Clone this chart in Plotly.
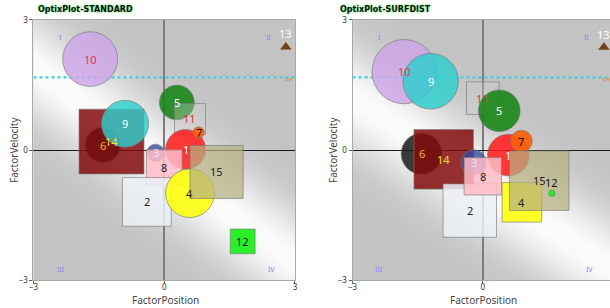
import numpy as np, zlib, struct, base64
import plotly.graph_objects as go

# ---------------- data ----------------
# STANDARD plot (left)
std_labels = ["10", "6", "14", "9", "5", "11", "1", "7", "3", "8", "2", "4", "15", "12", "13"]
std_x      = [-1.70, -1.41, -1.21, -0.90, 0.29, 0.59, 0.49, 0.79, -0.20, 0.00, -0.40, 0.59, 1.20, 1.80, 2.79]
std_y      = [2.10, 0.12, 0.20, 0.61, 1.10, 0.72, 0.02, 0.41, -0.06, -0.40, -1.19, -0.99, -0.50, -2.10, 2.38]
std_size   = [1.26, 0.80, 1.49, 1.08, 0.80, 0.71, 0.92, 0.26, 0.40, 0.82, 1.12, 1.12, 1.22, 0.57, 0.0]
std_shape  = ["circle", "circle", "square", "circle", "circle", "square", "circle", "circle", "circle",
              "square", "square", "circle", "square", "square", "triangle"]

# SURFDIST plot (right)
sd_labels = ["10", "9", "11", "5", "6", "14", "3", "1", "7", "2", "8", "4", "15", "12", "13"]
sd_x      = [-1.81, -1.20, 0.00, 0.38, -1.41, -0.90, -0.21, 0.59, 0.89, -0.30, 0.00, 0.90, 1.30, 1.59, 2.79]
sd_y      = [1.81, 1.59, 1.20, 0.91, -0.08, -0.21, -0.28, -0.11, 0.21, -1.39, -0.60, -1.20, -0.70, -0.99, 2.37]
sd_size   = [1.48, 1.28, 0.75, 0.96, 0.94, 1.37, 0.58, 0.96, 0.50, 1.23, 0.86, 0.91, 1.37, 0.15, 0.0]
sd_shape  = ["circle", "circle", "square", "circle", "circle", "square", "circle", "circle", "circle",
             "square", "square", "square", "square", "circle", "triangle"]

threshold_y = 1.68
axis_ticks = [-3, 0, 3]
quadrants = ["I", "II", "III", "IV"]
x_title = "FactorPosition"
y_title = "FactorVelocity"

# ---------------- styles ----------------
FILL = {
    "1": "rgba(255,25,25,0.85)", "2": "rgba(236,240,246,0.85)", "3": "rgba(55,75,160,0.8)",
    "4": "rgba(255,255,10,0.88)", "5": "rgba(25,135,25,0.9)", "6": "rgba(25,25,25,0.85)",
    "7": "rgba(255,95,5,0.92)", "8": "rgba(255,188,200,0.85)", "9": "rgba(45,205,205,0.82)",
    "10": "rgba(205,165,232,0.82)", "11": "rgba(205,205,205,0.35)", "12": "rgba(35,240,35,0.97)",
    "14": "rgba(132,12,12,0.85)", "15": "rgba(182,176,128,0.72)",
}
TXT = {"1": "white", "2": "#222", "3": "#f0e0f0", "4": "#222", "5": "white", "6": "#f0b020",
       "7": "#111", "8": "#222", "9": "white", "10": "#e03848", "11": "#d83838", "12": "#111",
       "13": "white", "14": "#f0e030", "15": "#222"}


def gradient_png(c0, slope, width=0.2, gray=195, n=160):
    u = (np.arange(n) + 0.5) / n
    U, V = np.meshgrid(u, u)
    d = V - (c0 + slope * U)
    img = (gray + (252 - gray) * np.exp(-(d / width) ** 2)).astype(np.uint8)
    raw = b"".join(b"\x00" + img[r].tobytes() for r in range(n))

    def chunk(t, data):
        return struct.pack(">I", len(data)) + t + data + struct.pack(">I", zlib.crc32(t + data) & 0xffffffff)

    png = (b"\x89PNG\r\n\x1a\n" + chunk(b"IHDR", struct.pack(">IIBBBBB", n, n, 8, 0, 0, 0, 0))
           + chunk(b"IDAT", zlib.compress(raw)) + chunk(b"IEND", b""))
    return "data:image/png;base64," + base64.b64encode(png).decode()


fig = go.Figure()
shapes, annots, images = [], [], []
FONT = "Noto Sans"


def build(labels, xs, ys, sizes, kinds, xa, ya, xmax, grad):
    xr, yr = xa, ya
    images.append(dict(source=grad, xref=f"{xa} domain", yref=f"{ya} domain", x=0, y=1,
                       sizex=1, sizey=1, sizing="stretch", xanchor="left", yanchor="top", layer="below"))
    # dotted threshold line
    shapes.append(dict(type="line", xref=xr, yref=yr, x0=-3, x1=xmax, y0=threshold_y, y1=threshold_y,
                       line=dict(color="#3fd0dc", width=2.2, dash="dot")))
    for lab, x, y, s, k in zip(labels, xs, ys, sizes, kinds):
        h = s / 2
        if k == "triangle":
            fig.add_trace(go.Scatter(x=[x], y=[y], mode="markers", xaxis=xa, yaxis=ya,
                                     marker=dict(symbol="triangle-up", size=10, color="#6e4218"),
                                     showlegend=False, hoverinfo="skip"))
            annots.append(dict(x=x, y=y, xref=xr, yref=yr, text=lab, showarrow=False, yshift=13,
                               font=dict(family=FONT, size=11, color=TXT[lab])))
            continue
        shapes.append(dict(type="circle" if k == "circle" else "rect", xref=xr, yref=yr,
                           x0=x - h, x1=x + h, y0=y - h, y1=y + h, fillcolor=FILL[lab],
                           line=dict(color="rgba(120,120,120,0.65)", width=1), layer="above"))
        annots.append(dict(x=x, y=y, xref=xr, yref=yr, text=lab, showarrow=False,
                           yshift=11 if s < 0.2 else 0,
                           font=dict(family=FONT, size=11, color=TXT[lab])))
    # quadrant marks
    for q, (qx, qy) in zip(quadrants, [(-2.37, 2.6), (2.4, 2.6), (-2.38, -2.74), (2.45, -2.74)]):
        annots.append(dict(x=qx, y=qy, xref=xr, yref=yr, text=q, showarrow=False,
                           font=dict(family=FONT, size=7, color="#8484f0")))
    annots.append(dict(x=2.86, y=threshold_y - 0.03, xref=xr, yref=yr, text="pe", showarrow=False,
                       font=dict(family=FONT, size=6, color="#f08020")))


build(std_labels, std_x, std_y, std_size, std_shape, "x", "y", 3, gradient_png(0.18, 0.75))
build(sd_labels, sd_x, sd_y, sd_size, sd_shape, "x2", "y2", 2.93, gradient_png(0.30, 0.65))

# titles
for tx, txt in [(36, "OptixPlot-STANDARD"), (338, "OptixPlot-SURFDIST")]:
    annots.append(dict(x=tx / 610, y=1 - 9 / 308, xref="paper", yref="paper", xanchor="left",
                       yanchor="middle", text=f"<b>{txt}</b>", showarrow=False,
                       font=dict(family="DejaVu Sans", size=8, color="#101010",
                                 shadow="0px 0px 3px #3ee83e")))

# axis titles (placed as annotations to sit exactly like the reference)
for cx in [165, 483]:
    annots.append(dict(x=cx / 610, y=1 - 300 / 308, xref="paper", yref="paper", text=x_title,
                       showarrow=False, xanchor="center", yanchor="middle",
                       font=dict(family=FONT, size=10, color="#444")))
for cx in [14, 333]:
    annots.append(dict(x=cx / 610, y=1 - 150 / 308, xref="paper", yref="paper", text=y_title,
                       showarrow=False, textangle=-90, xanchor="center", yanchor="middle",
                       font=dict(family=FONT, size=10, color="#444")))

ax_common = dict(showgrid=False, zeroline=True, showline=True, mirror=True, linecolor="#a8a8a8",
                 linewidth=1, ticks="outside", ticklen=3, tickcolor="#606060",
                 tickvals=axis_ticks, tickfont=dict(family=FONT, size=8, color="#333"),
                 automargin=False)
ydom = [0.0893, 0.9351]
fig.update_layout(
    width=610, height=308, margin=dict(l=0, r=0, t=0, b=0),
    paper_bgcolor="white", plot_bgcolor="#c4c4c4",
    xaxis=dict(domain=[0.0549, 0.4836], range=[-3, 3], zerolinecolor="#7c7c7c", zerolinewidth=1.5,
               ticklabelstandoff=-4, anchor="y", **ax_common),
    yaxis=dict(domain=ydom, range=[-3, 3], zerolinecolor="#1a1a1a", zerolinewidth=1,
               anchor="x", **ax_common),
    xaxis2=dict(domain=[0.5779, 1.0], range=[-3, 2.93], zerolinecolor="#7c7c7c", zerolinewidth=1.5,
                ticklabelstandoff=-4, anchor="y2", **ax_common),
    yaxis2=dict(domain=ydom, range=[-3, 3], zerolinecolor="#1a1a1a", zerolinewidth=1,
                anchor="x2", **ax_common),
    shapes=shapes, annotations=annots, images=images, showlegend=False,
)

fig.write_html("out.html", config={"displayModeBar": False},
               post_script="document.body.style.margin='0';document.body.style.overflow='hidden';")
